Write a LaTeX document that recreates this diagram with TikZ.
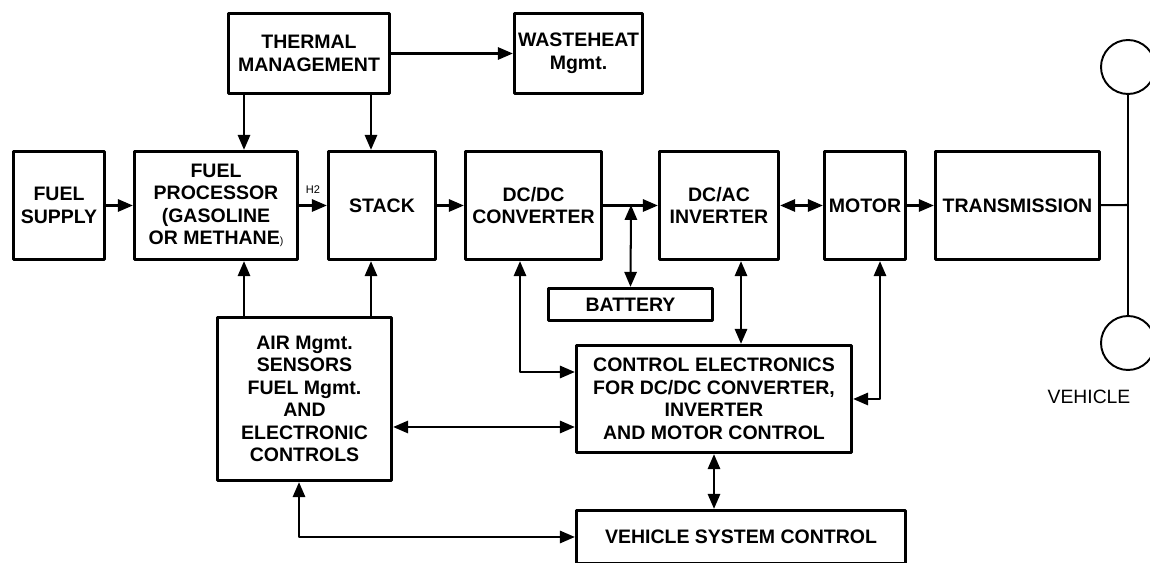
\documentclass[tikz,border=0pt]{standalone}
\usepackage{fontspec}
\setmainfont{Liberation Sans}
\usetikzlibrary{arrows.meta}
\begin{document}
\begin{tikzpicture}[x=0.02cm,y=-0.02cm,line join=round,>={Triangle[length=8.5pt,width=7pt]},
	blk/.style={draw,line width=1.9pt,align=center,inner sep=2pt,font=\fontsize{11.1}{12.8}\selectfont\bfseries},
	arr/.style={line width=1.15pt},
	wheel/.style={draw,circle,line width=1.1pt,minimum size=1.08cm,inner sep=0pt}]
	\clip (0,0) rectangle (1150,563);
	% top row
	\node[blk,minimum width=3.22cm,minimum height=1.6cm] (therm) at (309,53.5) {THERMAL\\MANAGEMENT};
	\node[blk,minimum width=2.32cm,minimum height=1.6cm] (waste) at (578.5,53.5) {WASTEHEAT\\Mgmt.};
	% main row
	\node[blk,minimum width=1.82cm,minimum height=2.16cm] (fuel) at (59,205.5) {FUEL\\SUPPLY};
	\node[blk,minimum width=3.26cm,minimum height=2.16cm] (proc) at (216,205.5) {FUEL\\PROCESSOR\\(GASOLINE\\OR METHANE{\fontsize{6}{6}\selectfont\mdseries)}};
	\node[blk,minimum width=2.14cm,minimum height=2.16cm] (stack) at (382,205.5) {STACK};
	\node[blk,minimum width=2.72cm,minimum height=2.16cm] (dcdc) at (533.5,205.5) {DC/DC\\CONVERTER};
	\node[blk,minimum width=2.38cm,minimum height=2.16cm] (dcac) at (719,205.5) {DC/AC\\INVERTER};
	\node[blk,minimum width=1.62cm,minimum height=2.16cm] (motor) at (865,205.5) {MOTOR};
	\node[blk,minimum width=3.28cm,minimum height=2.16cm] (trans) at (1017.5,205.5) {TRANSMISSION};
	% lower part
	\node[blk,minimum width=3.28cm,minimum height=0.64cm] (batt) at (630.5,304.5) {BATTERY};
	\node[blk,minimum width=3.48cm,minimum height=3.26cm] (air) at (304.5,399) {AIR Mgmt.\\SENSORS\\FUEL Mgmt.\\AND\\ELECTRONIC\\CONTROLS};
	\node[blk,minimum width=5.5cm,minimum height=2.14cm] (ctrl) at (714,399) {CONTROL ELECTRONICS\\FOR DC/DC CONVERTER,\\INVERTER\\AND MOTOR CONTROL};
	\node[blk,minimum width=6.58cm,minimum height=1.06cm] (vsc) at (741,537) {VEHICLE SYSTEM CONTROL};
	% wheels
	\node[wheel] (wtop) at (1128,67) {};
	\node[wheel] (wbot) at (1128,343) {};
	\node[font=\fontsize{11}{12}\selectfont] (veh) at (1089,397) {VEHICLE};
	\path
	(244,0) coordinate (cp)
	(371,0) coordinate (cs)
	(631,205) coordinate (jb)
	(520,372) coordinate (cd)
	(741,0) coordinate (ci)
	(880,0) coordinate (cm)
	(299,0) coordinate (cv)
	(0,427) coordinate (ra)
	(1128,205) coordinate (hub);
	% connectors
	\draw[arr,->] (therm) -- (waste);
	\draw[arr,->] (therm.south -| cp) -- (proc.north -| cp);
	\draw[arr,->] (therm.south -| cs) -- (stack.north -| cs);
	\draw[arr,->] (fuel) -- (proc);
	\draw[arr,->] (proc) -- node[above=3pt,font=\fontsize{6.3}{7}\selectfont] (h2) {H2} (stack);
	\draw[arr,->] (stack) -- (dcdc);
	\draw[arr,->] (dcdc) -- (dcac);
	\draw[arr,<->] (jb) -- (batt.north);
	\draw[arr,<->] (dcac) -- (motor);
	\draw[arr,->] (motor) -- (trans);
	\draw[arr] (trans) -- (hub);
	\draw[arr] (wtop) -- (wbot);
	\draw[arr,->] (air.north -| cp) -- (proc.south -| cp);
	\draw[arr,->] (air.north -| cs) -- (stack.south -| cs);
	\draw[arr,<->] (air.east |- ra) -- (ctrl.west |- ra);
	\draw[arr,<->] (air.south -| cv) |- (vsc.west);
	\draw[arr,<->] (dcdc.south -| cd) |- (ctrl.west |- cd);
	\draw[arr,<->] (dcac.south -| ci) -- (ctrl.north -| ci);
	\draw[arr,<->] (motor.south -| cm) |- (ctrl.east);
	\draw[arr,<->] (ctrl.south) -- (ctrl.south |- vsc.north);
\end{tikzpicture}
\end{document}
